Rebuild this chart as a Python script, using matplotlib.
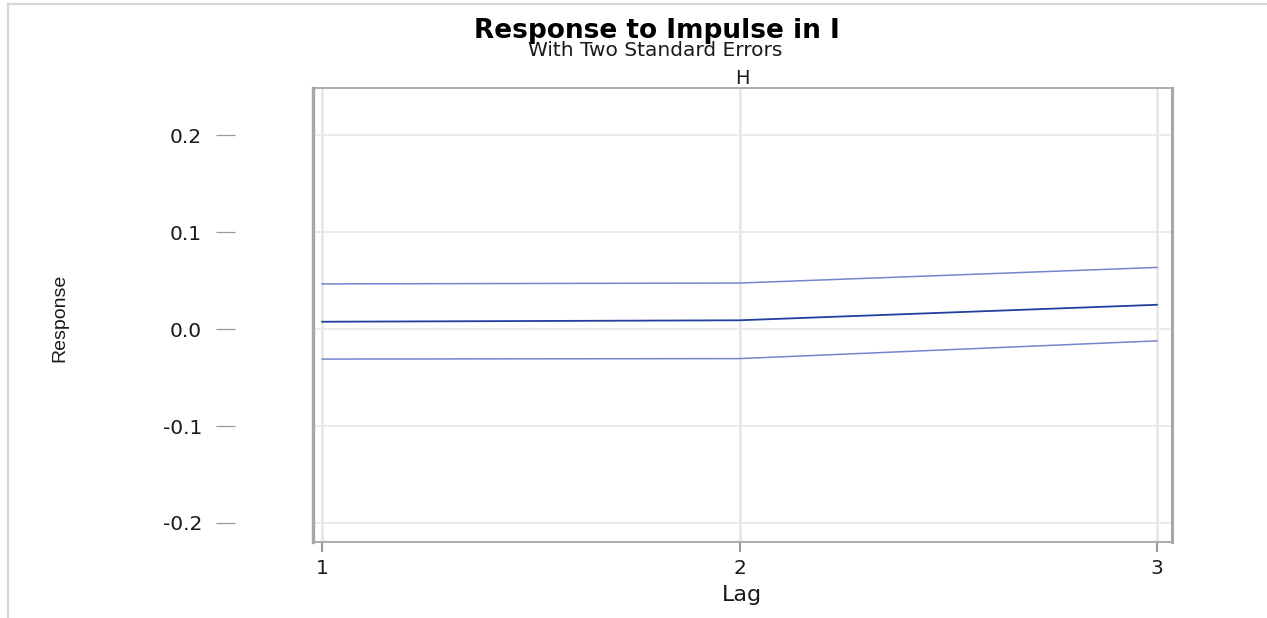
import matplotlib
matplotlib.use("Agg")
import matplotlib.pyplot as plt
from matplotlib.lines import Line2D

plt.rcParams['font.family'] = ['DejaVu Sans']

# Impulse response of H to a shock in I, with +/- two standard error bands
lags = [1, 2, 3]
response = [0.0075, 0.0090, 0.0250]
upper_band = [0.0465, 0.0474, 0.0635]
lower_band = [-0.0310, -0.0305, -0.0122]

y_ticks = [-0.2, -0.1, 0.0, 0.1, 0.2]
y_tick_labels = ['-0.2', '-0.1', '0.0', '0.1', '0.2']
x_ticks = [1, 2, 3]

W, H = 1267, 618
fig = plt.figure(figsize=(W / 100, H / 100), dpi=100)
fig.patch.set_facecolor('white')

ax = fig.add_axes([313 / W, 1 - 542 / H, (1172 - 313) / W, (542 - 88) / H])
ax.set_xlim(0.978, 3.036)
ax.set_ylim(-0.2196, 0.2485)

grid_col = '#e8e8e8'
for yv in y_ticks:
    ax.axhline(yv, color=grid_col, lw=1.2, zorder=1)
for xv in x_ticks:
    ax.axvline(xv, color=grid_col, lw=2.0, zorder=1)

ax.plot(lags, upper_band, color='#7486cc', lw=1.1, zorder=3)
ax.plot(lags, lower_band, color='#7486cc', lw=1.1, zorder=3)
ax.plot(lags, response, color='#22409e', lw=1.3, zorder=4)

frame_col = '#a4a8ac'
for side in ['top', 'bottom']:
    ax.spines[side].set_color(frame_col)
    ax.spines[side].set_linewidth(1.3)
ax.spines['right'].set_color(frame_col)
ax.spines['right'].set_linewidth(2.2)
# y axis ticks sit away from the plot box
ax.spines['left'].set_position(('outward', 56))
ax.spines['left'].set_visible(False)
ax.add_line(Line2D([0, 0], [0, 1], transform=ax.transAxes, color=frame_col,
                   lw=2.4, clip_on=False, zorder=5))

ax.set_yticks(y_ticks)
ax.set_yticklabels(y_tick_labels)
ax.set_xticks(x_ticks)
ax.tick_params(axis='y', direction='out', length=14, width=0.9, color='#9a9a9a',
               pad=10, labelsize=14.5, labelcolor='#1a1a1a')
ax.tick_params(axis='x', direction='out', length=7, width=1.5, color='#9a9a9a',
               pad=5, labelsize=14.5, labelcolor='#1a1a1a')

fig.text(60 / W, 1 - 318 / H, 'Response', rotation=90, ha='center', va='center',
         fontsize=14, color='#1a1a1a', family='Liberation Sans')
fig.text(742 / W, 1 - 595 / H, 'Lag', ha='center', va='center',
         fontsize=16, color='#1a1a1a')

fig.text(657 / W, 1 - 31 / H, 'Response to Impulse in I', ha='center', va='center',
         fontsize=19, fontweight='bold', color='black')
fig.text(655 / W, 1 - 51 / H, 'With Two Standard Errors', ha='center', va='center',
         fontsize=14.5, color='#1a1a1a')
fig.text(742 / W, 1 - 78 / H, 'H', ha='center', va='center',
         fontsize=14, color='#1a1a1a')

# thin outer frame on the left and top edges
fig.add_artist(Line2D([7.5 / W, 7.5 / W], [0, 1 - 3.5 / H], transform=fig.transFigure,
                      color='#d6d6d6', lw=1.6))
fig.add_artist(Line2D([7.5 / W, 1], [1 - 3.5 / H, 1 - 3.5 / H], transform=fig.transFigure,
                      color='#d6d6d6', lw=1.6))

fig.savefig('out.png', dpi=100, facecolor='white')
